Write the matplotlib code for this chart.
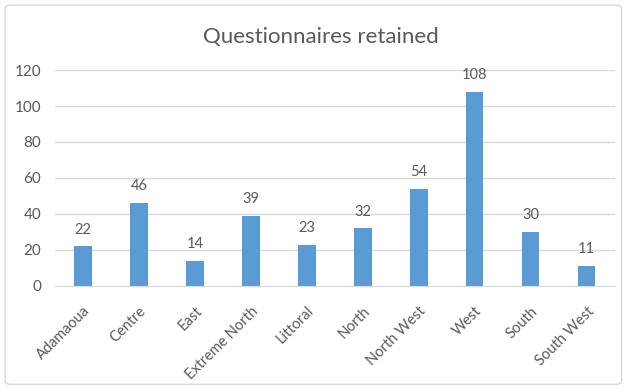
import matplotlib.pyplot as plt
from matplotlib.patches import FancyBboxPatch

regions = ['Adamaoua', 'Centre', 'East', 'Extreme North', 'Littoral',
           'North', 'North West', 'West', 'South', 'South West']
retained = [22, 46, 14, 39, 23, 32, 54, 108, 30, 11]
y_ticks = [0, 20, 40, 60, 80, 100, 120]

bar_color = '#5B9BD5'
text_color = '#595959'
grid_color = '#D9D9D9'

plt.rcParams['font.family'] = ['Lato', 'DejaVu Sans']

fig = plt.figure(figsize=(6.26, 3.89), dpi=100)
ax = fig.add_axes([0.088, 0.265, 0.894, 0.555])

x = range(len(regions))
bars = ax.bar(x, retained, width=0.31, color=bar_color, zorder=3)

# value labels above each bar
for rect, v in zip(bars, retained):
    ax.annotate(str(v), (rect.get_x() + rect.get_width() / 2, v),
                xytext=(0, 7), textcoords='offset points',
                ha='center', va='bottom', fontsize=10.5, color=text_color)

ax.set_xlim(-0.5, len(regions) - 0.5)
ax.set_ylim(0, 120)
ax.set_yticks(y_ticks)
ax.set_xticks(list(x))
ax.set_xticklabels(regions, rotation=45, ha='right', rotation_mode='anchor',
                   fontsize=10.5, color=text_color)
ax.tick_params(axis='y', labelsize=11, labelcolor=text_color, length=0, pad=10)
ax.tick_params(axis='x', length=0, pad=13)
ax.yaxis.grid(True, color=grid_color, linewidth=1, zorder=0)

for side in ['top', 'right', 'left']:
    ax.spines[side].set_visible(False)
ax.spines['bottom'].set_color(grid_color)
ax.spines['bottom'].set_zorder(4)

fig.text(0.512, 0.905, 'Questionnaires retained', ha='center', va='center',
         fontsize=16, color=text_color)

# chart frame
frame = FancyBboxPatch((0.008, 0.012), 0.985, 0.975, transform=fig.transFigure,
                       boxstyle='round,pad=0,rounding_size=0.01',
                       facecolor='none', edgecolor=grid_color, linewidth=1)
fig.patches.append(frame)

fig.savefig('out.png', dpi=100)
